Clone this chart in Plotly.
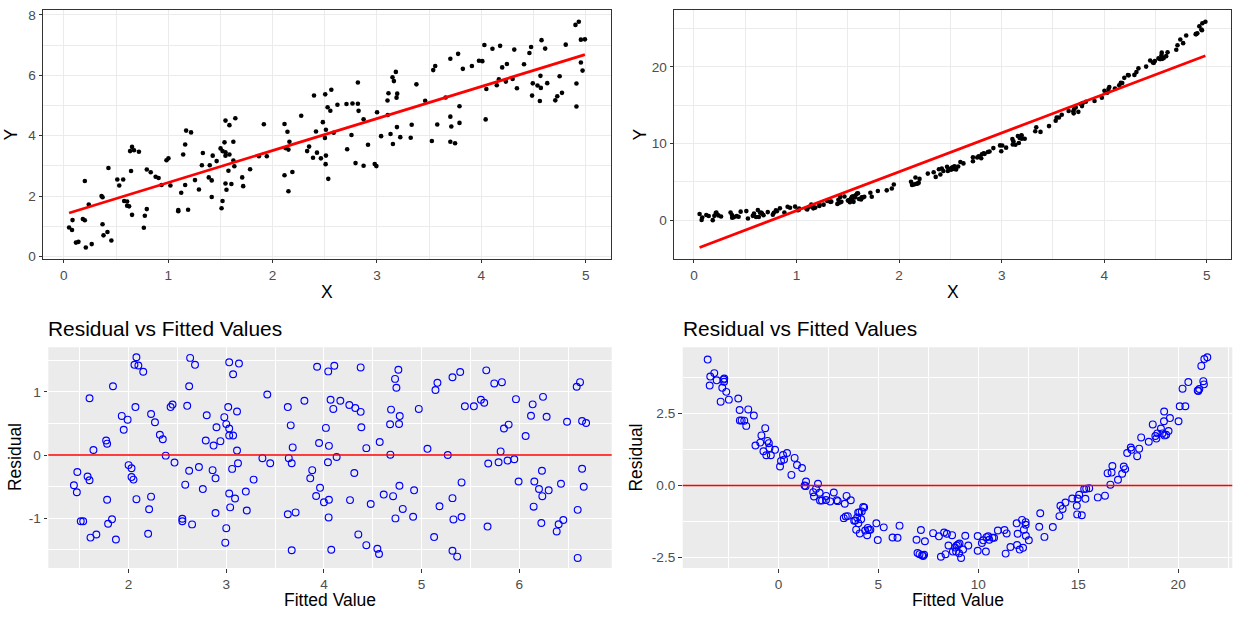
import numpy as np
import plotly.graph_objects as go

# ---- linear data set: fitted values and residuals of the straight-line fit ----
lin_fitted = [
    1.44, 1.47, 1.475, 1.51, 1.535, 1.58, 1.60, 1.60, 1.61, 1.67, 1.64, 1.77, 1.78, 1.78, 1.79, 1.83,
    1.84, 1.87, 1.93, 1.95, 1.99, 2.00, 2.03, 2.03, 2.05, 2.07, 2.08, 2.06, 2.10, 2.08, 2.15, 2.21,
    2.20, 2.23, 2.23, 2.27, 2.32, 2.35, 2.38, 2.43, 2.45, 2.47, 2.55, 2.55, 2.58, 2.60, 2.62, 2.62,
    2.63, 2.65, 2.68, 2.72, 2.76, 2.79, 2.80, 2.86, 2.87, 2.89, 2.89, 2.90, 2.94, 2.98, 3.00, 3.00,
    2.99, 3.02, 3.03, 3.03, 3.03, 3.03, 3.04, 3.07, 3.07, 3.06, 3.09, 3.11, 3.11, 3.12, 3.13, 3.20,
    3.21, 3.28, 3.37, 3.42, 3.45, 3.63, 3.63, 3.64, 3.66, 3.67, 3.67, 3.68, 3.71, 3.80, 3.86, 3.88,
    3.93, 3.92, 3.95, 3.96, 4.00, 4.02,
    4.044, 4.106, 4.068, 4.096, 4.168, 4.051, 4.041, 4.130, 4.051, 4.048, 4.075, 4.376, 4.260, 4.321,
    4.376, 4.383, 4.434, 4.311, 4.267, 4.479, 4.352, 4.434, 4.547, 4.564, 4.571, 4.612, 4.708, 4.680,
    4.687, 4.677, 4.769, 4.776, 4.728, 4.742, 4.762, 4.773, 4.807, 4.732, 4.913, 4.923, 4.971, 5.060,
    5.128, 5.142, 5.162, 5.183, 5.268, 5.316, 5.395, 5.316, 5.326, 5.409, 5.409, 5.316, 5.364, 5.443,
    5.535, 5.607, 5.641, 5.662, 5.744, 5.822, 5.682, 5.675, 5.788, 5.809, 5.843, 5.891, 5.880, 5.949,
    5.966, 5.993, 6.065, 6.120, 6.137, 6.154, 6.147, 6.202, 6.236, 6.232, 6.243, 6.226, 6.280, 6.301,
    6.383, 6.403, 6.427, 6.451, 6.489, 6.588, 6.622, 6.643, 6.684, 6.643, 6.660, 6.598, 6.598,
]
lin_resid = [
    -0.48, -0.59, -0.27, -1.05, -1.05, -0.34, -0.40, 0.90, -1.31, -1.26, 0.08, 0.23, 0.18, -0.71, -1.09, -1.02,
    1.09, -1.34, 0.62, 0.40, 0.56, -0.16, -0.21, -0.35, -0.39, 0.76, 1.55, 1.43, 1.42, -0.70, 1.32, -0.86,
    -1.25, -0.66, 0.65, 0.52, 0.32, 0.25, -0.01, 0.76, 0.80, -0.12, -1.05, -1.01, -0.47, 0.78, -0.25, 1.09,
    1.54, -1.10, 1.43, -0.19, -0.54, 0.23, 0.63, -0.24, 0.15, -0.92, -0.37, 0.44, 0.22, 0.60, 0.49, -1.16,
    -1.39, 0.76, 1.47, 0.42, -0.61, 0.31, -0.83, 0.31, 1.28, -0.22, -0.69, 0.69, 0.07, -0.13, 1.45, -0.58,
    -0.88, -0.39, -0.05, 0.96, -0.13, 0.76, -0.94, -0.05, 0.47, -1.51, -0.13, 0.12, -0.91, 0.86, -0.37, -0.24,
    1.40, -0.65, 0.19, -0.52, -0.75, 0.43,
    1.326, 1.415, 0.876, 0.731, 0.860, 0.145, -0.114, -0.031, -0.710, -0.990, -1.503, 1.389, 0.793, 0.746,
    0.684, 0.440, 0.109, -0.285, -0.715, -0.777, -1.259, -1.430, -1.487, -1.570, 0.207, -0.627, -0.653, 0.005,
    0.720, 0.487, 0.492, 0.617, 1.207, 1.067, 1.352, -0.487, -0.855, -1.005, -0.979, -0.560, 0.731, 0.098,
    -1.301, 1.031, 1.145, -0.813, 0.000, 1.233, 1.316, -0.684, -1.021, -0.435, -0.984, -1.518, -1.611, 0.772,
    0.772, 0.876, 0.829, 1.342, 1.135, 1.155, -0.135, -1.135, -0.114, 0.057, 0.420, 0.482, -0.088, -0.067,
    0.886, -0.420, 0.301, 0.622, 0.803, -0.420, -0.819, -0.539, -0.653, -0.249, 0.922, -1.078, 0.606, -0.560,
    -1.212, -1.098, -0.456, -1.031, 0.528, 1.083, 1.155, 0.539, 0.508, -0.218, -0.503, -0.870, -1.632,
]
lin_intercept = 1.387
lin_slope = 1.061

# ---- curved data set: fitted values and residuals of the straight-line fit ----
quad_fitted = [
    -3.54, -3.44, -3.41, -3.21, -3.09, -2.89, -2.81, -2.74, -2.72, -2.71, -2.61, -2.48, -2.01, -1.94, -1.93,
    -1.84, -1.71, -1.61, -1.51, -1.23, -1.15, -0.91, -0.85, -0.75, -0.66, -0.61, -0.55, -0.48, -0.45, -0.38,
    -0.17, 0.08, 0.13, 0.23, 0.28, 0.43, 0.65, 0.81, 0.93, 1.18, 1.31, 1.38, 1.36, 1.74, 1.78, 1.88, 1.98,
    2.06, 2.08, 2.18, 2.39, 2.38, 2.59, 2.77, 2.92, 2.97, 3.27, 3.32, 3.37, 3.41, 3.47, 3.62, 3.79, 3.85,
    3.89, 3.94, 3.99, 4.00, 4.05, 4.07, 4.14, 4.17, 4.24, 4.29, 4.34, 4.44, 4.47, 4.53, 4.60, 4.90, 4.97,
    5.27, 5.71, 5.96, 6.06, 6.91, 6.96, 7.06, 7.13, 7.19, 7.24, 7.33, 7.29, 7.74,
    8.03, 8.13, 8.36, 8.29, 8.43, 8.51, 8.69, 8.73, 8.84, 8.89, 8.92, 8.99, 9.04, 9.06, 9.14, 9.24, 9.35,
    9.50, 9.97, 9.97, 10.18, 10.25, 10.41, 10.38, 10.50, 10.55, 10.71, 10.79, 10.98, 11.31, 11.42, 11.37,
    11.61, 11.92, 11.97, 11.94, 12.07, 12.19, 12.24, 12.28, 12.37, 12.37, 12.38, 12.53, 13.05, 13.10, 13.31,
    13.73, 14.06, 14.11, 14.22, 14.36, 14.70, 14.93, 14.97, 15.05, 14.95, 15.18, 15.36, 15.30, 15.40, 15.55,
    15.98, 16.34, 16.47, 16.61, 16.67, 16.71, 16.99, 17.20, 17.28, 17.35, 17.45, 17.63, 17.67, 17.95, 18.05,
    18.15, 18.53, 18.73, 18.86, 18.91, 18.96, 19.14, 19.22, 19.30, 19.29, 19.32, 19.40, 19.52, 19.59, 20.02,
    20.08, 20.36, 20.22, 20.51, 20.98, 21.01, 21.06, 21.26, 21.29, 21.16, 21.31, 21.46,
]
quad_resid = [
    4.37, 3.47, 3.78, 3.90, 3.65, 2.91, 3.39, 3.68, 3.60, 3.71, 3.25, 2.98, 3.02, 2.62, 2.26,
    2.26, 2.25, 2.07, 2.64, 2.43, 1.39, 1.49, 1.74, 1.19, 1.99, 1.05, 1.55, 1.47, 1.30, 1.05,
    1.24, 0.66, 0.85, 1.06, 0.90, 1.13, 0.37, 0.96, 0.71, 0.61, 0.00, 0.14, -0.02, -0.23, -0.38, -0.11, 0.06,
    -0.25, -0.52, -0.52, -0.36, -0.50, -0.55, -0.24, -0.51, -0.54, -1.13, -0.63, -1.07, -0.36, -1.06, -0.51, -1.22, -1.21,
    -1.53, -1.11, -0.93, -1.31, -0.93, -1.66, -1.17, -0.90, -0.74, -0.76, -1.56, -1.72, -1.47, -1.54, -1.53, -1.31, -1.89,
    -1.45, -1.80, -1.81, -1.39, -1.88, -2.34, -2.38, -1.54, -2.42, -2.44, -1.93, -2.40, -1.65,
    -1.76, -2.47, -2.38, -1.63, -1.67, -2.08, -1.72, -2.29, -2.15, -2.29, -2.08, -2.04, -2.35, -2.01, -2.51, -2.22, -1.74,
    -2.08, -1.75, -2.26, -1.99, -1.90, -1.79, -2.29, -1.76, -1.88, -1.81, -1.81, -1.56, -1.54, -1.66, -2.36,
    -2.13, -1.31, -1.67, -2.06, -2.22, -1.19, -2.16, -1.53, -1.27, -1.36, -1.74, -1.90, -1.43, -0.96, -1.78,
    -1.44, -1.06, -0.70, -0.81, -0.59, -0.45, -0.70, -0.45, -0.32, -1.00, -1.03, -0.46, -0.12, -0.11, -0.09,
    -0.41, -0.35, 0.43, 0.03, 0.45, 0.68, 0.20, 0.41, 0.66, 0.57, 1.13, 1.32, 1.24, 1.02, 1.28,
    1.67, 1.52, 2.12, 1.72, 1.63, 1.81, 1.98, 1.81, 2.57, 2.23, 1.74, 1.76, 1.89, 2.34, 2.23,
    2.75, 2.75, 3.36, 3.59, 3.30, 3.28, 3.35, 3.62, 3.51, 4.15, 4.39, 4.45,
]
quad_intercept = -3.82
quad_slope = 5.07

# ---- tick values ----
x_ticks = [0, 1, 2, 3, 4, 5]
lin_y_ticks = [0, 2, 4, 6, 8]
quad_y_ticks = [0, 10, 20]
lin_fit_ticks = [2, 3, 4, 5, 6]
lin_res_ticks = [-1, 0, 1]
quad_fit_ticks = [0, 5, 10, 15, 20]
quad_res_ticks = [-2.5, 0, 2.5]
quad_res_labels = ["-2.5", "0.0", "2.5"]

W, H = 1233, 619
FONT = "Liberation Sans, Arial, sans-serif"
TICK_COL = "#4D4D4D"
DARK = "#333333"


def reconstruct(fitted, resid, b, a):
    f = np.asarray(fitted, float)
    r = np.asarray(resid, float)
    x = (f - b) / a
    y = f + r
    return x, y, f, r


def expand(*arrays, mult=0.05):
    v = np.concatenate([np.asarray(a, float) for a in arrays])
    lo, hi = v.min(), v.max()
    pad = (hi - lo) * mult
    return [lo - pad, hi + pad]


lx, ly, lf, lr = reconstruct(lin_fitted, lin_resid, lin_intercept, lin_slope)
qx, qy, qf, qr = reconstruct(quad_fitted, quad_resid, quad_intercept, quad_slope)

lorder = np.argsort(lx)
qorder = np.argsort(qx)


def px_dom(a, b):
    return [a / W, b / W]


def py_dom(top, bottom):
    return [1 - bottom / H, 1 - top / H]


fig = go.Figure()

# top-left: linear data with fitted line
fig.add_trace(go.Scatter(x=lx, y=ly, mode="markers", xaxis="x", yaxis="y",
                         marker=dict(color="black", size=4.6), hoverinfo="skip"))
fig.add_trace(go.Scatter(x=lx[lorder], y=lin_intercept + lin_slope * lx[lorder], mode="lines",
                         xaxis="x", yaxis="y", line=dict(color="red", width=2.8), hoverinfo="skip"))
# top-right: curved data with fitted line
fig.add_trace(go.Scatter(x=qx, y=qy, mode="markers", xaxis="x2", yaxis="y2",
                         marker=dict(color="black", size=4.6), hoverinfo="skip"))
fig.add_trace(go.Scatter(x=qx[qorder], y=quad_intercept + quad_slope * qx[qorder], mode="lines",
                         xaxis="x2", yaxis="y2", line=dict(color="red", width=2.8), hoverinfo="skip"))
# bottom: residuals vs fitted
open_marker = dict(symbol="circle-open", color="blue", size=6.8, line=dict(width=1.15, color="blue"))
fig.add_trace(go.Scatter(x=lf, y=lr, mode="markers", xaxis="x3", yaxis="y3",
                         marker=open_marker, hoverinfo="skip"))
fig.add_trace(go.Scatter(x=qf, y=qr, mode="markers", xaxis="x4", yaxis="y4",
                         marker=open_marker, hoverinfo="skip"))

tickfont = dict(family=FONT, size=13.6, color=TICK_COL)


def bw_axis(dom, anchor, rng, vals, minor_dtick, minor_tick0):
    return dict(domain=dom, anchor=anchor, range=rng, tickmode="array", tickvals=vals,
                ticktext=[str(v) for v in vals], ticks="outside", ticklen=3.7, tickwidth=1,
                tickcolor=DARK, tickfont=tickfont, showgrid=True, gridcolor="#EBEBEB", gridwidth=1.4,
                minor=dict(dtick=minor_dtick, tick0=minor_tick0, showgrid=True,
                           gridcolor="#EBEBEB", gridwidth=0.7),
                showline=True, mirror=True, linecolor=DARK, linewidth=1, zeroline=False)


def gray_axis(dom, anchor, rng, vals, text, minor_dtick, minor_tick0):
    return dict(domain=dom, anchor=anchor, range=rng, tickmode="array", tickvals=vals,
                ticktext=text, ticks="outside", ticklen=3.7, tickwidth=1,
                tickcolor=DARK, tickfont=tickfont, showgrid=True, gridcolor="white", gridwidth=1.4,
                minor=dict(dtick=minor_dtick, tick0=minor_tick0, showgrid=True,
                           gridcolor="white", gridwidth=0.7),
                showline=False, zeroline=False)


top_y = py_dom(7.5, 259.5)
bot_y = py_dom(349.3, 573.3)

fig.update_layout(
    width=W, height=H, margin=dict(l=0, r=0, t=0, b=0),
    paper_bgcolor="white", plot_bgcolor="white", showlegend=False,
    font=dict(family=FONT),
    xaxis=bw_axis(px_dom(43.3, 610.7), "y", expand(lx), x_ticks, 0.5, 0.5),
    yaxis=bw_axis(top_y, "x", expand(ly, lin_intercept + lin_slope * lx), lin_y_ticks, 1, 1),
    xaxis2=bw_axis(px_dom(674.3, 1230.7), "y2", expand(qx), x_ticks, 0.5, 0.5),
    yaxis2=bw_axis(top_y, "x2", expand(qy, quad_intercept + quad_slope * qx), quad_y_ticks, 5, 5),
    xaxis3=gray_axis(px_dom(48.3, 611.7), "y3", expand(lf), lin_fit_ticks,
                     [str(v) for v in lin_fit_ticks], 0.5, 0.5),
    yaxis3=gray_axis(bot_y, "x3", expand(lr), lin_res_ticks,
                     [str(v) for v in lin_res_ticks], 0.5, 0.5),
    xaxis4=gray_axis(px_dom(682.7, 1232.3), "y4", expand(qf), quad_fit_ticks,
                     [str(v) for v in quad_fit_ticks], 2.5, 2.5),
    yaxis4=gray_axis(bot_y, "x4", expand(qr), quad_res_ticks, quad_res_labels, 1.25, 1.25),
)

# grey panel backgrounds for the residual plots, and the zero reference lines
for xr, yr in (("x3", "y3"), ("x4", "y4")):
    fig.add_shape(type="rect", xref=f"{xr} domain", yref=f"{yr} domain", x0=0, x1=1, y0=0, y1=1,
                  fillcolor="#EBEBEB", line=dict(width=0), layer="below")
    fig.add_shape(type="line", xref=f"{xr} domain", yref=yr, x0=0, x1=1, y0=0, y1=0,
                  line=dict(color="red", width=1.6), layer="above")


def ann(text, x, y, size, angle=0, xanchor="center", color="black"):
    fig.add_annotation(text=text, x=x / W, y=1 - y / H, xref="paper", yref="paper",
                       showarrow=False, textangle=angle, xanchor=xanchor, yanchor="middle",
                       font=dict(family=FONT, size=size, color=color))


# axis titles
ann("X", 327, 293, 17.5)
ann("X", 952.5, 293, 17.5)
ann("Y", 11, 133.5, 17.5, angle=-90)
ann("Y", 640, 133.5, 17.5, angle=-90)
ann("Fitted Value", 330, 606, 17.5)
ann("Fitted Value", 957.5, 606, 17.5)
ann("Residual", 14.5, 461.3, 17.5, angle=-90)
ann("Residual", 636, 461.3, 17.5, angle=-90)
# plot titles
ann("Residual vs Fitted Values", 46, 330, 20.9, xanchor="left")
ann("Residual vs Fitted Values", 681, 330, 20.9, xanchor="left")

fig.write_html("out.html")
